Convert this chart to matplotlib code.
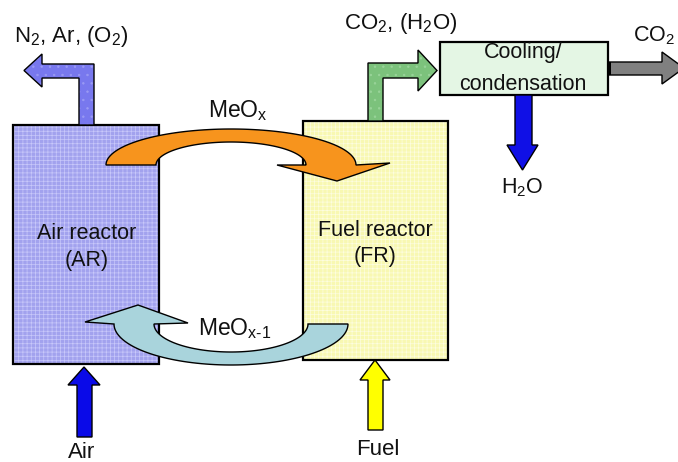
import numpy as np
import matplotlib
matplotlib.use("Agg")
import matplotlib.pyplot as plt
from matplotlib.patches import Polygon, Rectangle

plt.rcParams['font.family'] = ['Liberation Sans', 'DejaVu Sans']
plt.rcParams['mathtext.fontset'] = 'custom'
plt.rcParams['mathtext.rm'] = 'Liberation Sans'
plt.rcParams['mathtext.it'] = 'Liberation Sans:italic'
plt.rcParams['hatch.linewidth'] = 0.5

# boxes: (x0, y0, x1, y1) in pixel coords, y downwards
air_box = (13, 125, 159, 364)
fuel_box = (303, 121, 448, 360)
cool_box = (440, 42, 608, 95)

# labels: text, x, y (baseline), size, ha
labels = [
    ("N$_2$, Ar, (O$_2$)", 14, 42, 16, 'left'),
    ("CO$_2$, (H$_2$O)", 344, 29, 16, 'left'),
    ("CO$_2$", 633, 41, 15.5, 'left'),
    ("Cooling/", 523, 58, 15.5, 'center'),
    ("condensation", 523, 90, 15.5, 'center'),
    ("H$_2$O", 501, 193, 15.5, 'left'),
    ("Air reactor", 87, 239, 15.5, 'center'),
    ("(AR)", 87, 266, 15.5, 'center'),
    ("Fuel reactor", 375, 236, 15.5, 'center'),
    ("(FR)", 375, 262, 15.5, 'center'),
    ("MeO$_\\mathrm{x}$", 208, 117, 16.5, 'left'),
    ("MeO$_\\mathrm{x\u20101}$", 198, 335, 16.5, 'left'),
    ("Air", 82, 458, 16, 'center'),
    ("Fuel", 378, 455, 16, 'center'),
]

fig = plt.figure(figsize=(6.78, 4.62), dpi=100)
ax = fig.add_axes([0, 0, 1, 1])
ax.set_xlim(0, 678)
ax.set_ylim(462, 0)
ax.axis('off')


def box(b, face, grid, hatch, z=1):
    x0, y0, x1, y1 = b
    ax.add_patch(Rectangle((x0, y0), x1 - x0, y1 - y0, facecolor=face,
                           edgecolor=grid, hatch=hatch, lw=0, zorder=z))
    ax.add_patch(Rectangle((x0, y0), x1 - x0, y1 - y0, facecolor='none',
                           edgecolor='black', lw=1.6, zorder=z + 0.1))


def poly(pts, face, z=2, lw=1.0, hatch=None, hcol=None):
    if hatch:
        ax.add_patch(Polygon(pts, closed=True, facecolor=face, edgecolor=hcol,
                             hatch=hatch, lw=0, zorder=z))
        ax.add_patch(Polygon(pts, closed=True, facecolor='none',
                             edgecolor='black', lw=lw, zorder=z + 0.1))
    else:
        ax.add_patch(Polygon(pts, closed=True, facecolor=face,
                             edgecolor='black', lw=lw, zorder=z))


def vert_arrow(x0, x1, hx0, hx1, ytail, ybase, ytip, face):
    xc = (hx0 + hx1) / 2
    pts = [(x0, ytail), (x0, ybase), (hx0, ybase), (xc, ytip),
           (hx1, ybase), (x1, ybase), (x1, ytail)]
    poly(pts, face)


# reactors and cooler
box(air_box, '#a2a2ee', '#c8c8fa', '++++')
box(fuel_box, '#f8f8b2', '#fdfde0', '++++')
box(cool_box, '#e4f6e4', '#e4f6e4', None)

# N2 exhaust (elbow to the left)
poly([(79, 125), (79, 78), (42, 78), (42, 87), (24, 70.5), (42, 54),
      (42, 64), (94, 64), (94, 125)], '#7878ee', hatch='..', hcol='#9a9af4')

# CO2/H2O exhaust (elbow to the right)
poly([(368, 121), (368, 63), (418, 63), (418, 50), (437, 70.5), (418, 91),
      (418, 78), (383, 78), (383, 121)], '#7cc27c', hatch='..', hcol='#9ad49a')

# gray CO2 out
poly([(608, 62), (662, 62), (662, 52), (684, 68), (662, 84), (662, 75),
      (608, 75)], '#808080')
ax.add_patch(Rectangle((607, 62), 4, 13, facecolor='black', lw=0, zorder=2.2))

# H2O drain, air and fuel inlets
vert_arrow(515, 532, 507, 538, 95, 145, 170, '#1010e6')
vert_arrow(77, 92, 68, 100, 437, 385, 367, '#0a0ae8')
vert_arrow(368, 383, 360, 390, 430, 380, 360, '#ffff00')

# orange MeOx arc (AR -> FR)
cx, cy = 231, 165
t = np.linspace(np.pi, 0, 80)
outer = np.column_stack([cx + 125 * np.cos(t), cy - 36 * np.sin(t)])
inner = np.column_stack([cx + 75 * np.cos(t[::-1]), cy - 23 * np.sin(t[::-1])])
head = np.array([(390, 163), (337, 181), (277, 165)])
poly(np.vstack([outer, head, inner]), '#f7941d', z=3)

# light blue MeOx-1 arc (FR -> AR)
cx, cy = 231, 324
t = np.linspace(0, np.pi, 80)
outer = np.column_stack([cx + 117 * np.cos(t), cy + 41 * np.sin(t)])
head = np.array([(85, 322), (138, 305), (188, 323)])
inner = np.column_stack([cx + 77 * np.cos(t[::-1]), cy + 28 * np.sin(t[::-1])])
poly(np.vstack([outer, head, inner]), '#a9d4dc', z=3)

for txt, x, y, s, ha in labels:
    ax.text(x, y, txt, fontsize=s, ha=ha, va='baseline', color='#111111', zorder=5)

fig.savefig('out.png', dpi=100)
